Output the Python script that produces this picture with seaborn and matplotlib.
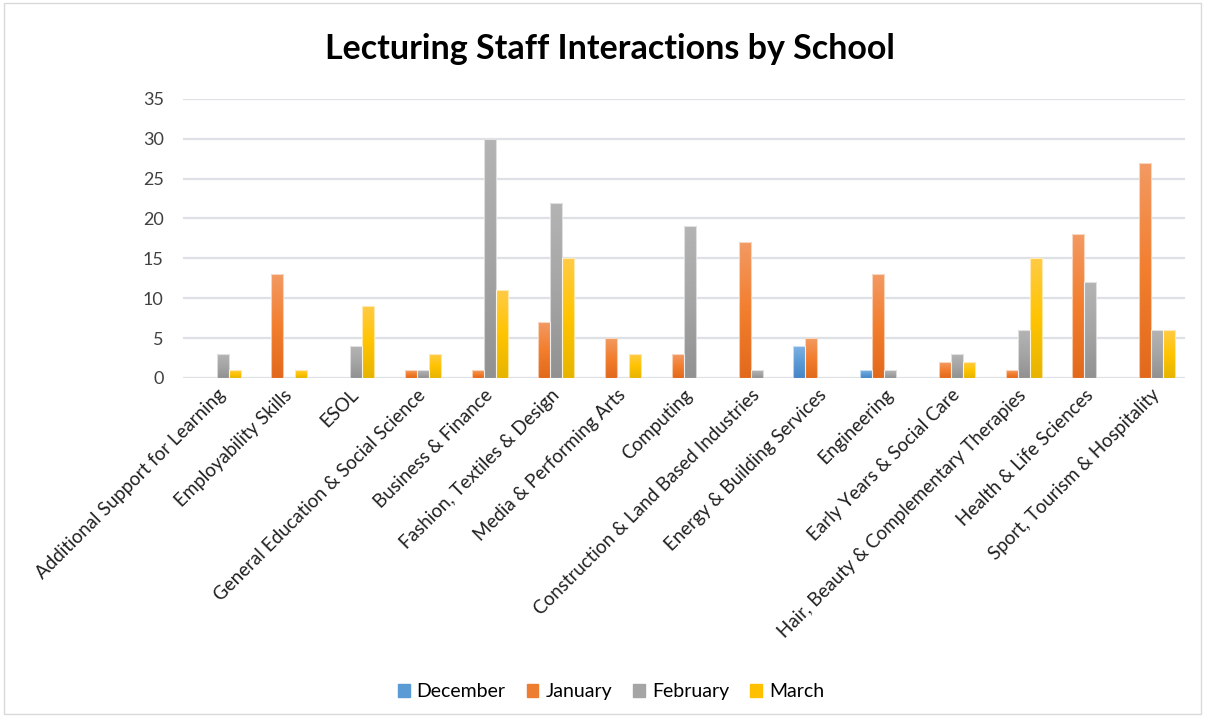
import numpy as np
import pandas as pd
import matplotlib
matplotlib.use("Agg")
import matplotlib.pyplot as plt
import seaborn as sns
from matplotlib.colors import LinearSegmentedColormap
from matplotlib.patches import Rectangle

schools = [
    "Additional Support for Learning",
    "Employability Skills",
    "ESOL",
    "General Education & Social Science",
    "Business & Finance",
    "Fashion, Textiles & Design",
    "Media & Performing Arts",
    "Computing",
    "Construction & Land Based Industries",
    "Energy & Building Services",
    "Engineering",
    "Early Years & Social Care",
    "Hair, Beauty & Complementary Therapies",
    "Health & Life Sciences",
    "Sport, Tourism & Hospitality",
]
months = ["December", "January", "February", "March"]

december = [0, 0, 0, 0, 0, 0, 0, 0, 0, 4, 1, 0, 0, 0, 0]
january = [0, 13, 0, 1, 1, 7, 5, 3, 17, 5, 13, 2, 1, 18, 27]
february = [3, 0, 4, 1, 30, 22, 0, 19, 1, 0, 1, 3, 6, 12, 6]
march = [1, 1, 9, 3, 11, 15, 3, 0, 0, 0, 0, 2, 15, 0, 6]

yticks = [0, 5, 10, 15, 20, 25, 30, 35]

# solid legend colours and (top, middle, bottom) gradient stops per month
base_colors = {"December": "#5B9BD5", "January": "#ED7D31",
               "February": "#A5A5A5", "March": "#FFC000"}
gradients = {
    "December": ["#7DB1E3", "#5B9BD5", "#4585C8"],
    "January": ["#F39A63", "#F27E2E", "#E2691B"],
    "February": ["#B4B4B4", "#A5A5A5", "#919191"],
    "March": ["#FFCB45", "#FFC400", "#E6B400"],
}

df = pd.DataFrame({
    "School": schools * 4,
    "Month": [m for m in months for _ in schools],
    "Count": december + january + february + march,
})

plt.rcParams["font.family"] = ["Lato", "DejaVu Sans"]
fig = plt.figure(figsize=(12.05, 7.17), dpi=100)
ax = fig.add_axes([0.152, 0.473, 0.831, 0.389])

sns.barplot(data=df, x="School", y="Count", hue="Month", hue_order=months,
            order=schools, palette=base_colors, width=0.72, ax=ax,
            edgecolor="white", linewidth=0.8, legend=False, errorbar=None)

# overlay vertical gradient fills on each bar
for container, month in zip(ax.containers, months):
    cmap = LinearSegmentedColormap.from_list(month, gradients[month][::-1])
    grad = np.linspace(0, 1, 256).reshape(-1, 1)
    for bar in container:
        h = bar.get_height()
        if h <= 0:
            bar.set_visible(False)
            continue
        x0, w = bar.get_x(), bar.get_width()
        im = ax.imshow(grad, cmap=cmap, origin="lower", aspect="auto",
                       extent=[x0, x0 + w, 0, h], zorder=bar.get_zorder() + 0.1)
        im.set_clip_path(bar)
        ax.add_patch(Rectangle((x0, 0), w, h, fill=False, edgecolor="#FFFFFF",
                               linewidth=0.8, alpha=0.6,
                               zorder=bar.get_zorder() + 0.2))

ax.set_xlim(-0.5, len(schools) - 0.5)
ax.set_ylim(0, 35)
ax.set_yticks(yticks)
ax.set_yticklabels([str(t) for t in yticks], fontsize=13, color="#404040")
ax.set_xticks(range(len(schools)))
ax.set_xticklabels(schools, rotation=45, ha="right", rotation_mode="anchor",
                   fontsize=13.5, color="#202020")
ax.tick_params(axis="y", length=0, pad=14)
ax.tick_params(axis="x", length=0, pad=6)
ax.set_xlabel("")
ax.set_ylabel("")
ax.grid(axis="y", color="#DDE1E6", linewidth=1.6)
ax.set_axisbelow(True)
for s in ax.spines.values():
    s.set_visible(False)

fig.text(0.506, 0.931, "Lecturing Staff Interactions by School", ha="center",
         va="center", fontsize=24.5, fontweight="bold", color="#000000")

handles = [Rectangle((0, 0), 1, 1, color=base_colors[m]) for m in months]
fig.legend(handles, months, loc="center", bbox_to_anchor=(0.507, 0.035),
           ncol=4, frameon=False, fontsize=14, handlelength=0.6,
           handleheight=0.6, handletextpad=0.35, columnspacing=1.1)

fig.add_artist(Rectangle((0.003, 0.004), 0.994, 0.992, transform=fig.transFigure,
                         fill=False, edgecolor="#D9D9D9", linewidth=1.0))

fig.savefig("out.png", dpi=100, facecolor="white")
